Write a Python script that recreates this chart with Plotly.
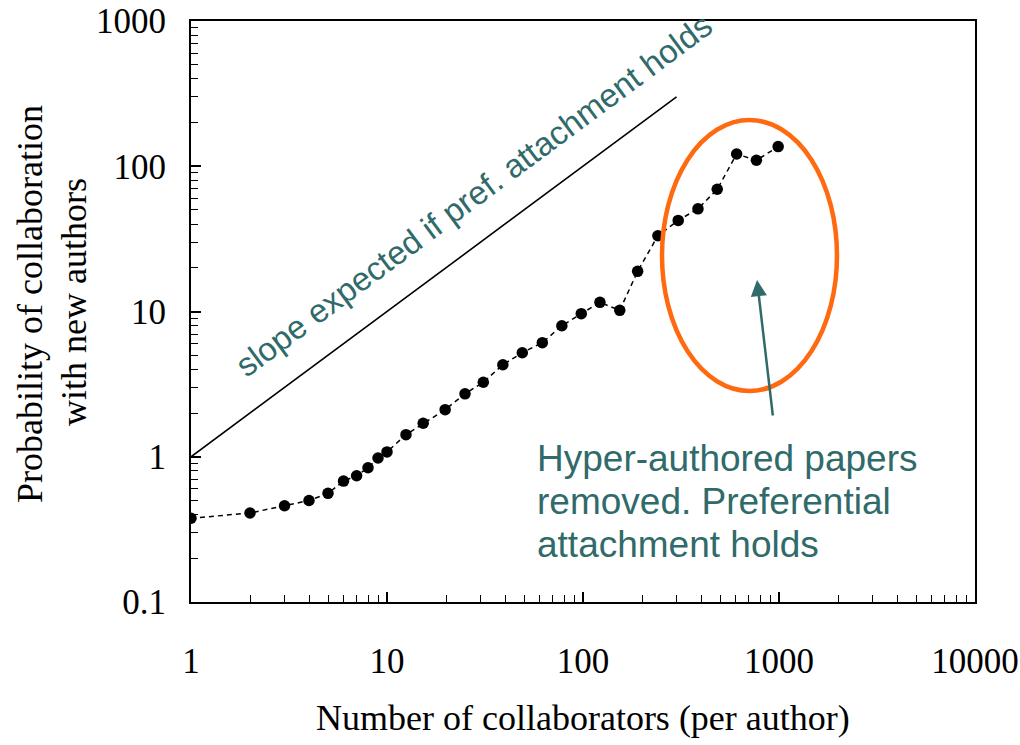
import plotly.graph_objects as go

# Collaboration data (log-binned number of collaborators per author)
collaborators = [1, 2, 3, 4, 5, 6, 7, 8, 9, 10, 12.5, 15.3, 19.8, 25, 31, 39, 49, 62, 78, 98,
                 122, 154, 190, 241, 306, 386, 484, 608, 767, 990]
probability = [0.377, 0.41, 0.46, 0.50, 0.56, 0.68, 0.74, 0.84, 0.98, 1.08, 1.42, 1.70, 2.11,
               2.71, 3.26, 4.30, 5.20, 6.10, 7.98, 9.66, 11.56, 10.19, 18.9, 33.2, 42.4, 50.9,
               69.4, 121.4, 109.9, 136.5]

# Reference line with slope 1 (preferential attachment)
slope_x = [1, 300]
slope_y = [1, 300]

x_ticks = [1, 10, 100, 1000, 10000]
x_ticktext = ["1", "10", "100", "1000", "10000"]
y_ticks = [0.1, 1, 10, 100, 1000]
y_ticktext = ["0.1", "1", "10", "100", "1000"]


def minor_ticks(decades):
    return [m * d for d in decades for m in range(2, 10)]


TEAL = "#306A6A"
ORANGE = "#FF6A10"
SERIF = "Liberation Serif, Times New Roman, serif"
SANS = "Liberation Sans, Arial, sans-serif"

fig = go.Figure()

fig.add_trace(go.Scatter(
    x=slope_x, y=slope_y, mode="lines",
    line=dict(color="black", width=1.6),
    hoverinfo="skip", showlegend=False,
))

fig.add_trace(go.Scatter(
    x=collaborators, y=probability, mode="lines+markers",
    line=dict(color="black", width=1.5, dash="5px,4px"),
    marker=dict(color="black", size=11.5),
    showlegend=False,
))

axis_common = dict(
    type="log", automargin=False,
    showgrid=False, zeroline=False,
    showline=True, linecolor="black", linewidth=2, mirror=True,
    ticks="inside", ticklen=10, tickwidth=1.5, tickcolor="black",
    tickfont=dict(family=SERIF, size=35, color="black"),
)

fig.update_xaxes(
    range=[0, 4], tickvals=x_ticks, ticktext=x_ticktext,
    minor=dict(tickvals=minor_ticks([1, 10, 100, 1000]), ticks="inside", ticklen=7,
               tickwidth=1.2, tickcolor="black", showgrid=False),
    ticklabelstandoff=27, **axis_common,
)
fig.update_yaxes(
    range=[-1, 3], tickvals=y_ticks, ticktext=y_ticktext,
    minor=dict(tickvals=minor_ticks([0.1, 1, 10, 100]), ticks="inside", ticklen=7,
               tickwidth=1.2, tickcolor="black", showgrid=False),
    ticklabelstandoff=16, **axis_common,
)

annotations = [
    # axis titles
    dict(text="Number of collaborators (per author)", x=0.5, y=-0.2, xref="paper", yref="paper",
         xanchor="center", yanchor="middle", showarrow=False,
         font=dict(family=SERIF, size=36, color="black")),
    dict(text="Probability of collaboration", x=(30 - 191) / 784, y=0.167, xref="paper", yref="paper",
         xanchor="center", yanchor="bottom", textangle=-90, showarrow=False,
         font=dict(family=SERIF, size=36, color="black")),
    dict(text="with new authors", x=(74 - 191) / 784, y=(602 - 302) / 581, xref="paper", yref="paper",
         xanchor="center", yanchor="middle", textangle=-90, showarrow=False,
         font=dict(family=SERIF, size=36, color="black")),
    # slope label
    dict(text="slope expected if pref. attachment holds", x=0.360, y=0.700,
         xref="paper", yref="paper", xanchor="center", yanchor="middle",
         textangle=-36.6, showarrow=False,
         font=dict(family=SANS, size=33, color=TEAL)),
    # arrow pointing into the ellipse
    dict(text="", x=(757 - 191) / 784, y=(602 - 280) / 581, xref="paper", yref="paper",
         ax=16, ay=137, showarrow=True, arrowhead=2, arrowsize=1.3,
         arrowwidth=2.5, arrowcolor=TEAL, standoff=0),
]

note_lines = ["Hyper-authored papers", "removed. Preferential", "attachment holds"]
note_y = [458, 501, 544]
for line, py in zip(note_lines, note_y):
    annotations.append(dict(
        text=line, x=(535 - 191) / 784, y=(602 - py) / 581, xref="paper", yref="paper",
        xanchor="left", yanchor="middle", showarrow=False,
        font=dict(family=SANS, size=37, color=TEAL),
    ))

fig.update_layout(
    width=1020, height=745,
    margin=dict(l=191, r=45, t=21, b=143),
    paper_bgcolor="white", plot_bgcolor="white",
    annotations=annotations,
    shapes=[dict(
        type="circle", xref="paper", yref="paper",
        x0=(662 - 191) / 784, x1=(837 - 191) / 784,
        y0=(602 - 391) / 581, y1=(602 - 120) / 581,
        line=dict(color=ORANGE, width=4.5),
    )],
)

fig.write_html("out.html")
